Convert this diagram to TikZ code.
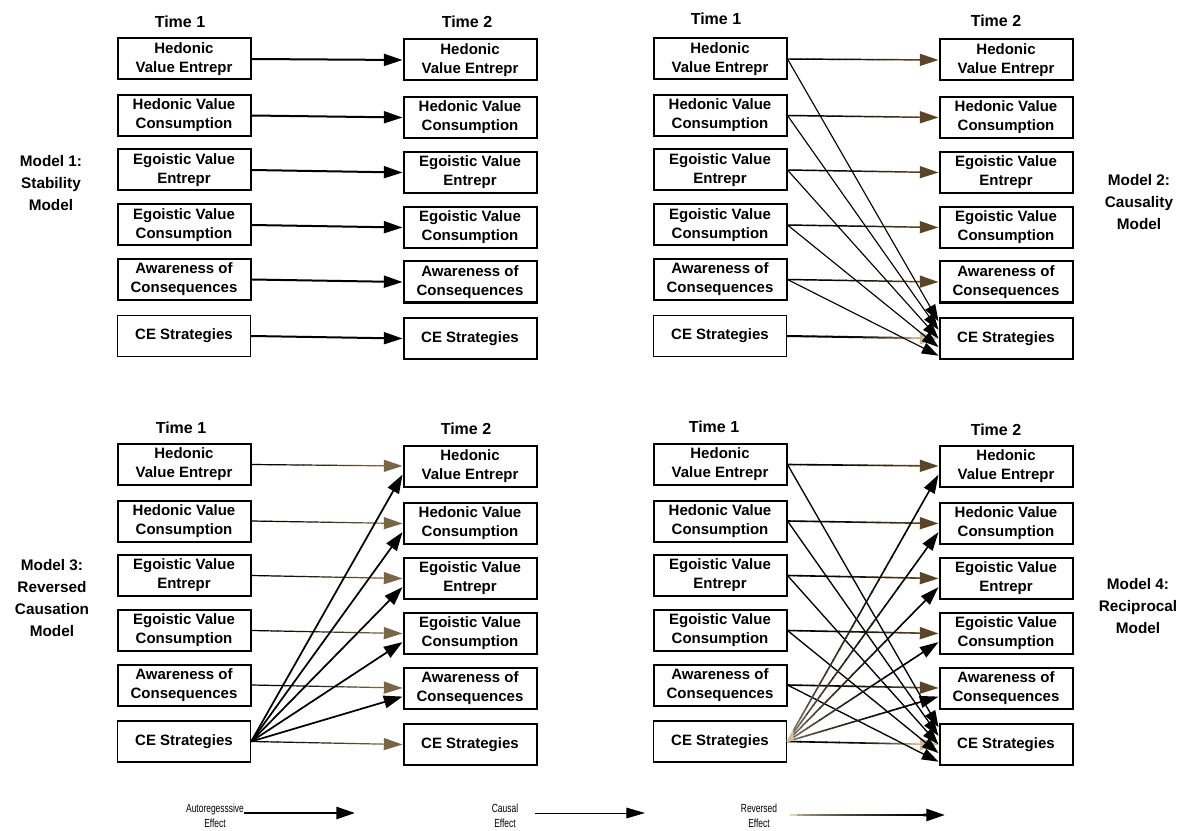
\documentclass[tikz,border=0pt]{standalone}
\usepackage{fontspec}
\setmainfont{Liberation Sans}
\newfontfamily\legfont[FakeStretch=0.72]{Liberation Sans}
\usetikzlibrary{arrows.meta,calc}
\definecolor{headbrown}{HTML}{5A4528}
\definecolor{lightbrown}{HTML}{7A6646}
\definecolor{tanc}{HTML}{CDB893}
\definecolor{revtan}{HTML}{E3D3B0}
\tikzset{
 vbox/.style={draw=black, line width=1.5pt, fill=white, minimum width=99.75pt, minimum height=30.75pt, inner sep=0pt, align=center, font=\fontsize{11.25pt}{14.25pt}\selectfont\bfseries},
 thinbox/.style={vbox, line width=1pt},
 timelabel/.style={font=\fontsize{12pt}{14pt}\selectfont\bfseries},
 modellabel/.style={align=center, font=\fontsize{11.5pt}{16.5pt}\selectfont\bfseries},
 legtext/.style={align=center, font=\legfont\fontsize{8.8pt}{11pt}\selectfont},
 autoarrow/.style={line width=1.5pt, -{Triangle[length=14pt,width=9pt]}},
 causarrow/.style={line width=0.85pt, -{Triangle[length=12.5pt,width=8.5pt]}},
 revarrow/.style={line width=1.3pt, -{Triangle[length=14pt,width=9.5pt]}},
}
\newcommand\gradarrow[7]{%
  \foreach \k in {0,...,19}{%
    \pgfmathsetmacro\ta{\k*0.043}%
    \pgfmathsetmacro\tb{(\k+1)*0.043+0.004}%
    \pgfmathtruncatemacro\mx{max(0,min(100,100*(1-((\k+0.001)/19)^#7)))}%
    \draw[line width=#5, draw=#3!\mx!#4] ($#1!\ta!#2$) -- ($#1!\tb!#2$);
  }%
  \draw[line width=#5, draw=#4, -{#6}] ($#1!0.86!#2$) -- #2;
}
\newcommand\panelboxes[5]{%
 \node[vbox] (#1L1) at (#2,#4) {Hedonic\\Value Entrepr};
 \node[vbox] (#1L2) at (#2,#4+56.5) {Hedonic Value\\Consumption};
 \node[vbox] (#1L3) at (#2,#4+111) {Egoistic Value\\Entrepr};
 \node[vbox] (#1L4) at (#2,#4+166) {Egoistic Value\\Consumption};
 \node[vbox] (#1L5) at (#2,#4+220.5) {Awareness of\\Consequences};
 \node[thinbox] (#1L6) at (#2,#4+277) {CE Strategies};
 \node[vbox] (#1R1) at (#3,#5) {Hedonic\\Value Entrepr};
 \node[vbox] (#1R2) at (#3,#5+57.5) {Hedonic Value\\Consumption};
 \node[vbox] (#1R3) at (#3,#5+112.5) {Egoistic Value\\Entrepr};
 \node[vbox] (#1R4) at (#3,#5+167.5) {Egoistic Value\\Consumption};
 \node[vbox] (#1R5) at (#3,#5+222) {Awareness of\\Consequences};
 \node[vbox] (#1R6) at (#3,#5+278.5) {CE Strategies};
}
\begin{document}
\begin{tikzpicture}[x=0.75pt,y=-0.75pt]
\fill[white] (0,0) rectangle (1204,831);
\useasboundingbox (0,0) rectangle (1204,831);

\panelboxes{a}{184}{470}{59}{60}
\panelboxes{b}{720}{1006}{59}{60}
\panelboxes{c}{184}{470}{464.5}{466}
\panelboxes{d}{720}{1006}{464.5}{466}

% time labels
\node[timelabel] (aT1) at (180,22) {Time 1};
\node[timelabel] (aT2) at (467,22) {Time 2};
\node[timelabel] (bT1) at (716,19) {Time 1};
\node[timelabel] (bT2) at (996,21) {Time 2};
\node[timelabel] (cT1) at (181,428) {Time 1};
\node[timelabel] (cT2) at (466,429) {Time 2};
\node[timelabel] (dT1) at (714,427) {Time 1};
\node[timelabel] (dT2) at (996,430) {Time 2};

% model labels
\node[modellabel] (m1) at (51,183) {Model 1:\\Stability\\Model};
\node[modellabel] (m2) at (1139,202) {Model 2:\\Causality\\Model};
\node[modellabel] (m3) at (52,598) {Model 3:\\Reversed\\Causation\\Model};
\node[modellabel] (m4) at (1138,606) {Model 4:\\Reciprocal\\Model};

% helper coordinates
\foreach \i/\f in {1/0.1,2/0.3,3/0.5,4/0.7,5/0.9}{
  \coordinate (bC\i) at ($(bR6.north west)!\f!(bR6.south west)$);
  \coordinate (dC\i) at ($(dR6.north west)!\f!(dR6.south west)$);
}
\foreach \i in {1,...,5}{
  \coordinate (cE\i) at ($(cR\i.north west)!0.7!(cR\i.south west)$);
  \coordinate (dE\i) at ($(dR\i.north west)!0.7!(dR\i.south west)$);
}

% Model 1
\foreach \i in {1,...,6} \draw[autoarrow] (aL\i.east) -- (aR\i.west);

% Model 2
\foreach \i in {1,...,5}{\gradarrow{(bL\i.east)}{(bR\i.west)}{black}{headbrown}{1.1pt}{Triangle[length=14pt,width=9pt]}{2}}
\gradarrow{(bL6.east)}{(bR6.west)}{black}{tanc}{1.5pt}{Triangle[length=14pt,width=9pt]}{4}
\foreach \i in {1,...,5} \draw[causarrow] (bL\i.east) -- (bC\i);

% Model 3
\foreach \i in {1,...,6}{\gradarrow{(cL\i.east)}{(cR\i.west)}{black}{lightbrown}{0.9pt}{Triangle[length=14pt,width=9pt]}{1.5}}
\foreach \i in {1,...,5} \draw[revarrow] (cL6.east) -- (cE\i);

% Model 4
\foreach \i in {1,...,5}{\gradarrow{(dL\i.east)}{(dR\i.west)}{black}{headbrown}{1.2pt}{Triangle[length=14pt,width=9pt]}{2}}
\gradarrow{(dL6.east)}{(dR6.west)}{black}{tanc}{1.2pt}{Triangle[length=14pt,width=9pt]}{4}
\foreach \i in {1,...,5} \draw[causarrow, line width=1pt] (dL\i.east) -- (dC\i);
\foreach \i in {1,...,5}{\gradarrow{(dL6.east)}{(dE\i)}{revtan}{black}{1.2pt}{Triangle[length=14pt,width=9pt]}{0.25}}

% legend
\node[legtext] (lg1) at (215,816) {Autoregesssive\\Effect};
\coordinate (la1s) at (244,813);
\coordinate (la1e) at (355,813);
\draw[line width=2pt, -{Triangle[length=14pt,width=9pt]}] (la1s) -- (la1e);
\node[legtext] (lg2) at (505,816) {Causal\\Effect};
\coordinate (la2s) at (535,813);
\coordinate (la2e) at (645,813);
\draw[line width=0.75pt, -{Triangle[length=14pt,width=8pt]}] (la2s) -- (la2e);
\node[legtext] (lg3) at (759,816) {Reversed\\Effect};
\coordinate (la3s) at (790,815);
\coordinate (la3e) at (945,815);
\gradarrow{(la3s)}{(la3e)}{revtan}{black}{2pt}{Triangle[length=14pt,width=9pt]}{0.5}
\end{tikzpicture}
\end{document}
